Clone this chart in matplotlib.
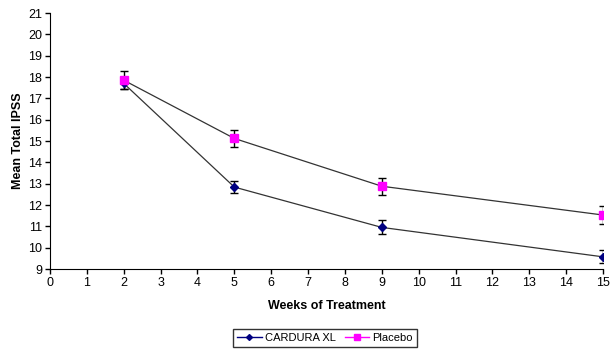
import matplotlib
matplotlib.use("Agg")
import matplotlib.pyplot as plt

plt.rcParams['font.family'] = ['Liberation Sans', 'DejaVu Sans']

weeks = [2, 5, 9, 15]
cardura = [17.7, 12.84, 10.95, 9.57]
cardura_err = [0.28, 0.3, 0.33, 0.3]
placebo = [17.85, 15.12, 12.88, 11.53]
placebo_err = [0.42, 0.38, 0.4, 0.4]

fig = plt.figure(figsize=(6.14, 3.55), dpi=100)
ax = fig.add_axes([50 / 614, 86 / 355, 553 / 614, 256 / 355])

ax.errorbar(weeks, cardura, yerr=cardura_err, color='#333333', lw=0.9,
            marker='D', ms=4.5, mfc='#000080', mec='#000080',
            ecolor='black', elinewidth=1, capsize=3, label='CARDURA XL')
ax.errorbar(weeks, placebo, yerr=placebo_err, color='#333333', lw=0.9,
            marker='s', ms=6, mfc='#FF00FF', mec='#FF00FF',
            ecolor='black', elinewidth=1, capsize=3, label='Placebo')

ax.set_xlim(0, 15)
ax.set_ylim(9, 21)
ax.set_xticks(range(0, 16))
ax.set_yticks(range(9, 22))
ax.spines['top'].set_visible(False)
ax.spines['right'].set_visible(False)
ax.tick_params(labelsize=9, length=3.5, width=1, pad=2)
ax.set_xlabel('Weeks of Treatment', fontsize=9, fontweight='bold', labelpad=8)
ax.set_ylabel('Mean Total IPSS', fontsize=9, fontweight='bold', labelpad=3)

# legend lines in series colors
h1, = ax.plot([], [], color='#000080', marker='D', ms=3, lw=1)
h2, = ax.plot([], [], color='#FF00FF', marker='s', ms=4, lw=1)
leg = fig.legend([h1, h2], ['CARDURA XL', 'Placebo'], loc='center',
                 bbox_to_anchor=(325 / 614, 1 - 338 / 355), ncol=2,
                 fontsize=8, frameon=True, fancybox=False, edgecolor='black',
                 handlelength=2.2, handletextpad=0.3, columnspacing=0.8,
                 borderpad=0.4, borderaxespad=0)
leg.get_frame().set_linewidth(1)

fig.savefig('out.png', dpi=100)
